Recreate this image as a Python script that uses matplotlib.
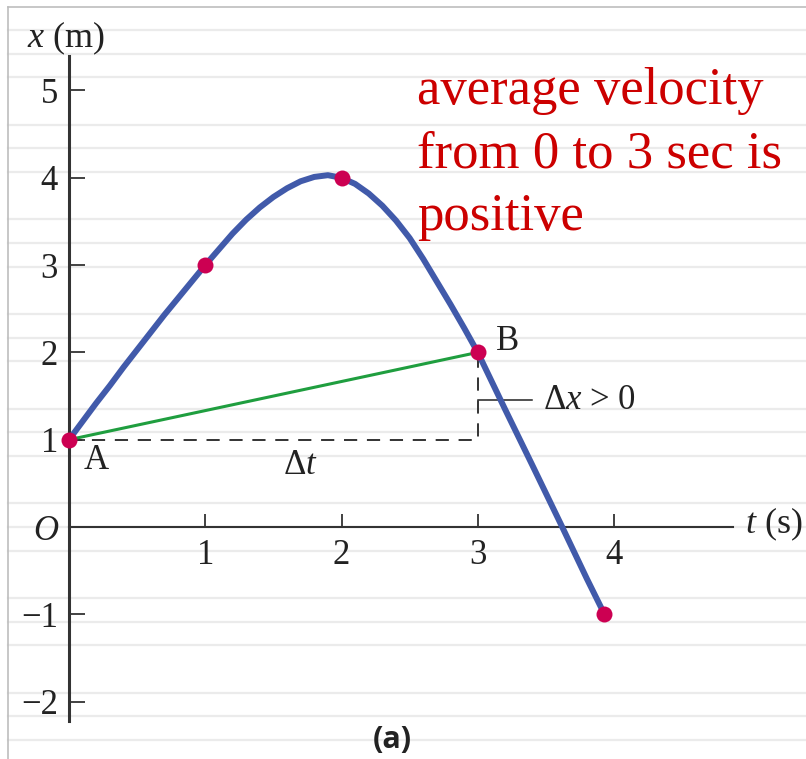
import matplotlib
matplotlib.use("Agg")
import matplotlib.pyplot as plt
from matplotlib.lines import Line2D

# position x (m) against time t (s), sampled along the drawn curve
t_curve = [0.0, 0.1, 0.2, 0.3, 0.4, 0.5, 0.6, 0.7, 0.8, 0.9, 1.0,
           1.1, 1.2, 1.3, 1.4, 1.5, 1.6, 1.7, 1.8, 1.9, 2.0,
           2.1, 2.2, 2.3, 2.4, 2.5, 2.6, 2.7, 2.8, 2.9, 3.0,
           3.2, 3.4, 3.62, 3.8, 3.93]
x_curve = [1.00, 1.21, 1.42, 1.62, 1.83, 2.03, 2.23, 2.43, 2.62, 2.81, 3.00,
           3.18, 3.36, 3.52, 3.66, 3.78, 3.88, 3.96, 4.01, 4.03, 4.00,
           3.93, 3.82, 3.68, 3.51, 3.31, 3.07, 2.81, 2.55, 2.28, 2.00,
           1.35, 0.71, 0.00, -0.59, -1.00]

# marked instants (A is the first, B the fourth)
t_pts = [0.0, 1.0, 2.0, 3.0, 3.93]
x_pts = [1.0, 3.0, 4.0, 2.0, -1.0]

x_ticks = [1, 2, 3, 4]
y_ticks = [-2, -1, 0, 1, 2, 3, 4, 5]
y_tick_labels = ["\u22122", "\u22121", "O", "1", "2", "3", "4", "5"]

plt.rcParams["font.family"] = ["Liberation Serif", "DejaVu Serif"]
plt.rcParams["mathtext.fontset"] = "custom"
plt.rcParams["mathtext.rm"] = "Liberation Serif"
plt.rcParams["mathtext.it"] = "Liberation Serif:italic"
plt.rcParams["lines.scale_dashes"] = False

W, H, DPI = 806, 759, 100
fig = plt.figure(figsize=(W / DPI, H / DPI), dpi=DPI)
ax = fig.add_axes([0, 0, 1, 1])
ax.set_facecolor("none")

# origin sits at (69 px, 527 px); 136.25 px per second, 87.3 px per metre
px_t, px_x = 136.25, 87.3
ax.set_xlim(-69 / px_t, (W - 69) / px_t)
ax.set_ylim(-(H - 527) / px_x, 527 / px_x)

# ruled page behind the graph
for k in range(31):
    if k % 4 == 3:
        continue
    yf = 1 - (30 + 23.67 * k) / H
    fig.add_artist(Line2D([8 / W, 1], [yf, yf], color="#ebebeb", lw=1.6, zorder=-1))
fig.add_artist(Line2D([8 / W, 1], [1 - 7 / H, 1 - 7 / H], color="#bdbdbd", lw=1.2, zorder=-1))
fig.add_artist(Line2D([8 / W, 8 / W], [0, 1 - 7 / H], color="#bdbdbd", lw=1.2, zorder=-1))

# axes through the origin
axis_col = "#333333"
for s in ("top", "right"):
    ax.spines[s].set_visible(False)
ax.spines["left"].set_position(("data", 0))
ax.spines["bottom"].set_position(("data", 0))
ax.spines["left"].set_bounds(-2.22, 5.40)
ax.spines["bottom"].set_bounds(0, 4.87)
ax.spines["left"].set_linewidth(2.2)
ax.spines["bottom"].set_linewidth(1.5)
ax.spines["left"].set_color(axis_col)
ax.spines["bottom"].set_color(axis_col)

ax.set_xticks(x_ticks)
ax.set_xticklabels([str(v) for v in x_ticks])
ax.set_yticks(y_ticks)
ax.set_yticklabels(y_tick_labels)
ax.tick_params(axis="y", direction="in", length=11.5, width=1.3, pad=8,
               labelsize=25, color=axis_col, labelcolor="#222222")
ax.tick_params(axis="x", direction="in", length=9.4, width=1.3, pad=9,
               labelsize=25, color=axis_col, labelcolor="#222222")
ax.get_yticklabels()[y_tick_labels.index("O")].set_fontstyle("italic")

# x(t) curve, chord A-B, and the Δt / Δx legs
ax.plot(t_curve, x_curve, color="#415aaa", lw=4.3,
        solid_capstyle="round", solid_joinstyle="round", zorder=3)
ax.plot([t_pts[0], t_pts[3]], [x_pts[0], x_pts[3]], color="#1f9e3f", lw=2.2, zorder=2)
ax.plot([t_pts[0], t_pts[3], t_pts[3]], [x_pts[0], x_pts[0], x_pts[3]],
        color="#333333", lw=1.4, dashes=(9.5, 7), zorder=1)
ax.plot(t_pts, x_pts, "o", ms=11.5, color="#cc0052", mec="none", zorder=4)

dx_mid = 1.45
ax.plot([t_pts[3], 3.40], [dx_mid, dx_mid], color="#222222", lw=1.1, zorder=2)
ax.text(3.48, dx_mid, "\u0394$x$ > 0", ha="left", va="center", fontsize=25, color="#222222")

ax.text(0.20, 0.76, "A", ha="center", va="center", fontsize=25, color="#222222")
ax.text(3.22, 2.12, "B", ha="center", va="center", fontsize=25, color="#222222")
ax.text(1.70, 0.71, "\u0394$t$", ha="center", va="center", fontsize=25, color="#222222")

ax.text(-0.308, 5.50, "$x$ (m)", ha="left", va="baseline", fontsize=26, color="#222222")
ax.text(4.96, -0.07, "$t$ (s)", ha="left", va="baseline", fontsize=26, color="#222222")

# note block: baseline of its last line sits at y = 230 px
ax.text(2.554, 3.402, "average velocity\nfrom 0 to 3 sec is\npositive",
        color="#cc0000", fontsize=38, ha="left", va="baseline", linespacing=1.40)

fig.text(392 / W, 1 - 740 / H, "(a)", fontweight="bold", family="Open Sans",
         fontsize=22, ha="center", va="center", color="#222222")

fig.savefig("out.png", dpi=DPI)
